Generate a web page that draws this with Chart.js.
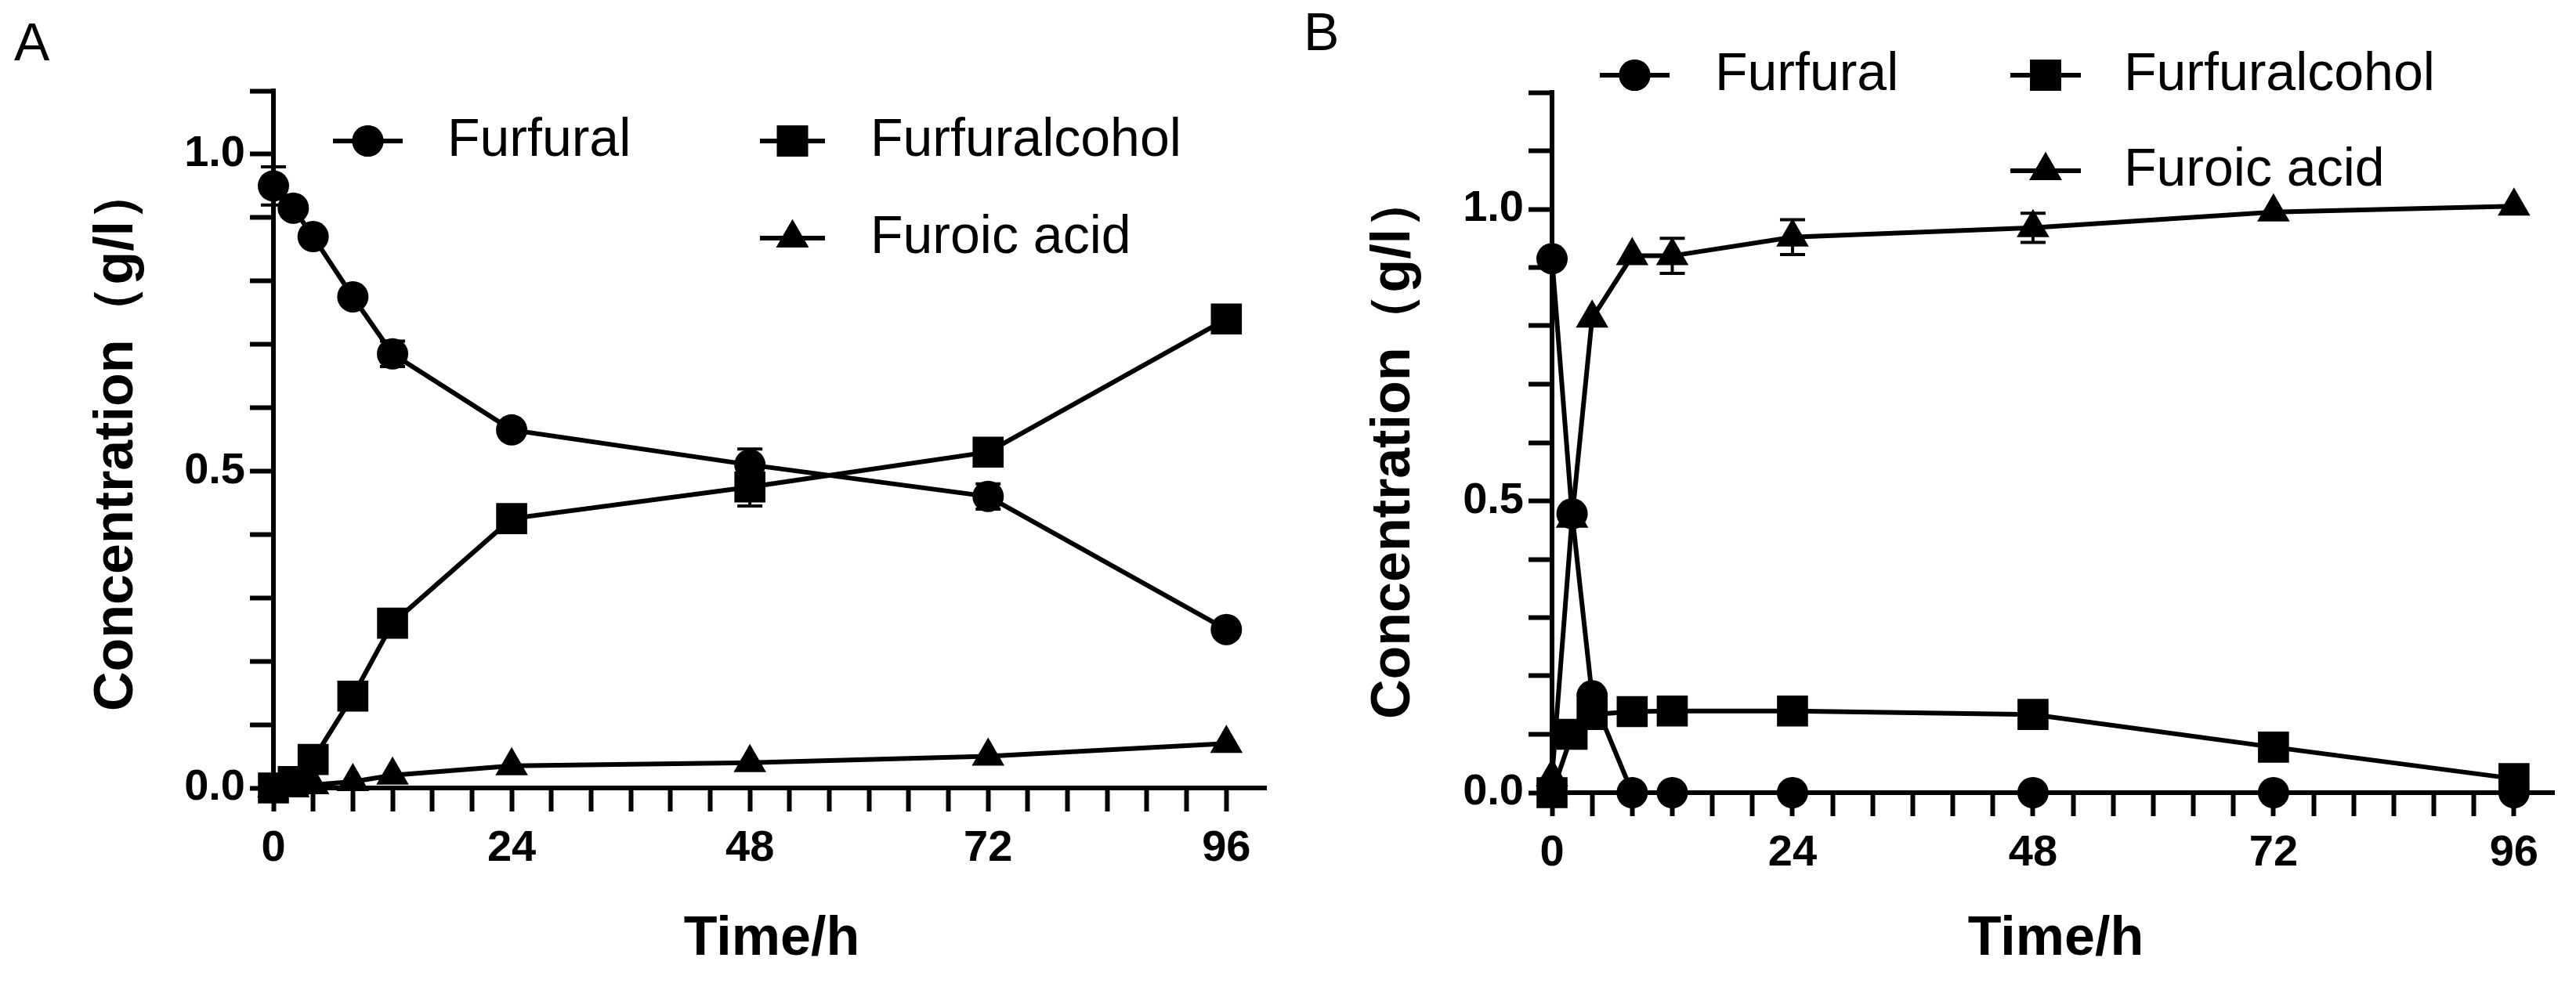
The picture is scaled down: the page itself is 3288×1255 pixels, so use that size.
<!DOCTYPE html>
<html><head><meta charset="utf-8">
<script src="https://cdn.jsdelivr.net/npm/chart.js@4/dist/chart.umd.min.js"></script>
<style>body{margin:0;background:#fff;width:3288px;height:1255px;overflow:hidden;display:flex}canvas{display:block}</style>
</head><body>
<canvas id="a" width="1644" height="1255" style="width:1644px;height:1255px"></canvas>
<canvas id="b" width="1644" height="1255" style="width:1644px;height:1255px"></canvas>
<script>
const times = [0, 2, 4, 8, 12, 24, 48, 72, 96];
const seriesNames = ['Furfural', 'Furfuralcohol', 'Furoic acid'];
const xTickLabels = [0, 24, 48, 72, 96];
const yTickLabelsA = [0, 0.5, 1.0];
const yTickLabelsB = [0, 0.5, 1.0];

const furfuralA = [0.95, 0.915, 0.87, 0.775, 0.685, 0.565, 0.51, 0.46, 0.25];
const furfuralErrA = [0.03, 0.008, 0.008, 0.008, 0.02, 0.008, 0.025, 0.02, 0.008];
const alcoholA = [0.0, 0.01, 0.045, 0.145, 0.26, 0.425, 0.475, 0.53, 0.74];
const alcoholErrA = [0, 0, 0, 0, 0.008, 0.015, 0.03, 0.01, 0.008];
const acidA = [0.0, 0.0, 0.005, 0.01, 0.02, 0.035, 0.04, 0.05, 0.07];
const acidErrA = [0, 0, 0, 0, 0, 0, 0, 0, 0];

const furfuralB = [0.915, 0.478, 0.166, 0.0, 0.0, 0.0, 0.0, 0.0, 0.0];
const furfuralErrB = [0.01, 0.01, 0.01, 0, 0, 0, 0, 0, 0];
const alcoholB = [0.0, 0.10, 0.134, 0.139, 0.14, 0.14, 0.134, 0.078, 0.024];
const alcoholErrB = [0, 0, 0, 0, 0, 0, 0, 0, 0];
const acidB = [0.027, 0.47, 0.813, 0.92, 0.92, 0.952, 0.968, 0.995, 1.005];
const acidErrB = [0, 0, 0, 0, 0.03, 0.03, 0.025, 0, 0];

const styles = [
  {pointStyle: 'circle', pointRadius: 20},
  {pointStyle: 'rect', pointRadius: 28},
  {pointStyle: 'triangle', pointRadius: 24}
];

function mkDatasets(vals, errs) {
  return vals.map((v, i) => ({
    label: seriesNames[i],
    data: times.map((t, j) => ({x: t, y: v[j]})),
    errors: errs[i],
    borderColor: '#000', backgroundColor: '#000', borderWidth: 6,
    pointStyle: styles[i].pointStyle, pointRadius: styles[i].pointRadius,
    pointBorderWidth: 0, clip: false, tension: 0
  }));
}

const errPlugin = {
  id: 'err',
  afterDatasetsDraw(chart) {
    const ctx = chart.ctx, ys = chart.scales.y, xs = chart.scales.x;
    ctx.save(); ctx.strokeStyle = '#000'; ctx.lineWidth = 4;
    chart.data.datasets.forEach(ds => {
      ds.data.forEach((p, j) => {
        const e = ds.errors[j]; if (!e) return;
        const px = xs.getPixelForValue(p.x);
        const y1 = ys.getPixelForValue(p.y + e), y2 = ys.getPixelForValue(p.y - e);
        ctx.beginPath(); ctx.moveTo(px, y1); ctx.lineTo(px, y2);
        ctx.moveTo(px - 16, y1); ctx.lineTo(px + 16, y1);
        ctx.moveTo(px - 16, y2); ctx.lineTo(px + 16, y2); ctx.stroke();
      });
    });
    ctx.restore();
  }
};

function decoPlugin(cfg) {
  return {
    id: 'deco',
    afterDraw(chart) {
      const ctx = chart.ctx;
      ctx.save(); ctx.fillStyle = '#000'; ctx.strokeStyle = '#000';
      ctx.font = '68px "Liberation Sans", Arial, sans-serif';
      ctx.textBaseline = 'middle';
      ctx.fillText(cfg.panel, cfg.panelX, cfg.panelY);
      cfg.legend.forEach((L, i) => {
        ctx.lineWidth = 6;
        ctx.beginPath(); ctx.moveTo(L.x0, L.y); ctx.lineTo(L.x1, L.y); ctx.stroke();
        const cx = (L.x0 + L.x1) / 2;
        Chart.helpers.drawPoint(ctx, {pointStyle: styles[i].pointStyle, radius: styles[i].pointRadius, borderWidth: 0}, cx, L.y);
        ctx.fill();
        ctx.textAlign = 'left';
        ctx.fillText(seriesNames[i], L.tx, L.y);
      });
      ctx.font = 'bold 70px "Liberation Sans", Arial, sans-serif';
      ctx.textAlign = 'center';
      ctx.fillText('Time/h', cfg.xTitleX, 1200);
      ctx.translate(cfg.yTitleX, cfg.yTitleY); ctx.rotate(-Math.PI / 2);
      ctx.fillText('Concentration（g/l）', 0, 0);
      ctx.restore();
    }
  };
}

function makeChart(id, vals, errs, yMax, yLabels, geom, deco) {
  new Chart(document.getElementById(id), {
    type: 'line',
    data: {datasets: mkDatasets(vals, errs)},
    options: {
      responsive: false, animation: false, devicePixelRatio: 1,
      layout: {padding: {left: 0, right: geom.right, top: geom.top, bottom: 0}},
      plugins: {legend: {display: false}, tooltip: {enabled: false}},
      scales: {
        x: {
          type: 'linear', min: 0, max: 100,
          afterFit(s) { s.height = 1255 - geom.bottom; },
          afterBuildTicks(s) { s.ticks = []; for (let v = 0; v <= 96; v += 4) s.ticks.push({value: v}); },
          ticks: {
            callback: v => xTickLabels.includes(v) ? String(v) : '',
            autoSkip: false, maxRotation: 0, padding: 14, color: '#000',
            font: {family: '"Liberation Sans", Arial, sans-serif', size: 56, weight: 'bold'}
          },
          grid: {drawOnChartArea: false, tickLength: 30, tickWidth: 6, tickColor: '#000'},
          border: {color: '#000', width: 6}
        },
        y: {
          min: 0, max: yMax,
          afterFit(s) { s.width = geom.left; },
          afterBuildTicks(s) { s.ticks = []; for (let k = 0; k <= Math.round(yMax * 10); k++) s.ticks.push({value: k / 10}); },
          ticks: {
            callback: v => yLabels.some(l => Math.abs(l - v) < 1e-6) ? v.toFixed(1) : '',
            autoSkip: false, padding: 6, color: '#000',
            font: {family: '"Liberation Sans", Arial, sans-serif', size: 56, weight: 'bold'}
          },
          grid: {drawOnChartArea: false, tickLength: 30, tickWidth: 6, tickColor: '#000'},
          border: {color: '#000', width: 6}
        }
      }
    },
    plugins: [errPlugin, decoPlugin(deco)]
  });
}

makeChart('a', [furfuralA, alcoholA, acidA], [furfuralErrA, alcoholErrA, acidErrA], 1.1, yTickLabelsA,
  {left: 349, right: 9, top: 116, bottom: 1006},
  {panel: 'A', panelX: 18, panelY: 58, xTitleX: 985, yTitleX: 150, yTitleY: 560,
   legend: [{x0: 425, x1: 514, y: 180, tx: 571}, {x0: 970, x1: 1053, y: 180, tx: 1111}, {x0: 970, x1: 1053, y: 304, tx: 1111}]});

makeChart('b', [furfuralB, alcoholB, acidB], [furfuralErrB, alcoholErrB, acidErrB], 1.2, yTickLabelsB,
  {left: 337, right: 26, top: 118, bottom: 1012},
  {panel: 'B', panelX: 20, panelY: 45, xTitleX: 980, yTitleX: 136, yTitleY: 570,
   legend: [{x0: 398, x1: 487, y: 96, tx: 545}, {x0: 922, x1: 1012, y: 96, tx: 1067}, {x0: 922, x1: 1012, y: 218, tx: 1067}]});
</script>
</body></html>
